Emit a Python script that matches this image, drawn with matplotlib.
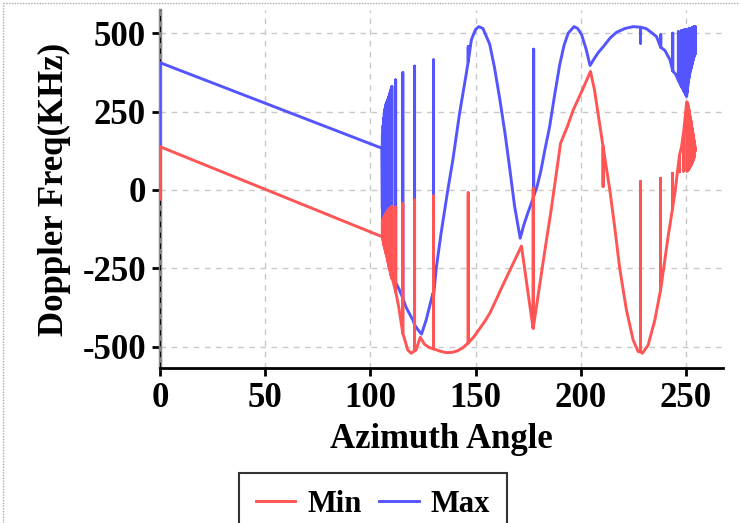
import matplotlib
matplotlib.use("Agg")
import matplotlib.pyplot as plt
from matplotlib.lines import Line2D

# ---- data ----
# Max (blue): smooth envelope, then spikes (x, base, top)
max_curve_x = [0, 0, 105.5, 110.6, 113.5, 117, 120.2, 122.5, 124.3, 126.5, 129.7, 131.3,
               133.6, 136.8, 139.2, 142.4, 145.6, 148, 150, 151.5, 153.5, 156.7, 159,
               161.5, 164, 166.2, 168.5, 171.2, 173, 175, 176.8, 179, 181, 183, 185.2,
               187.5, 190, 192, 194, 196.8, 198.5, 200.4, 202.5, 204.4, 206.5, 208.5,
               210.7, 214, 217, 221, 225, 231, 234, 236, 240, 242.4, 245, 250.3]
max_curve_v = [140, 406, 133, -266, -315, -375, -415, -445, -460, -415, -330, -250,
               -138, 0, 96, 245, 372, 479, 512, 521, 515, 465, 390,
               290, 180, 70, -50, -154, -110, -70, -37, 5, 60, 130, 202,
               300, 400, 460, 500, 521, 515, 495, 450, 397, 420, 440,
               457, 485, 503, 515, 521, 515, 500, 489, 445, 415, 370, 298]

max_dense_l_x = [105.7, 106.0, 106.3, 106.6, 106.9, 107.2, 107.5, 107.8, 108.1, 108.4,
                 108.7, 109.0, 109.3, 109.6, 109.9, 110.2]
max_dense_l_base = [-60, -100, -120, -135, -150, -160, -170, -180, -190, -200,
                    -210, -220, -230, -240, -250, -258]
max_dense_l_top = [175, 205, 228, 245, 258, 268, 275, 280, 285, 290,
                   296, 302, 309, 316, 323, 330]

max_single_x = [112.0, 115.4, 121.0, 130.0, 146.5, 177.6, 228.4, 238.0, 243.7, 246.4,
                247.8, 249.0, 249.8]
max_single_base = [-295, -345, -430, -340, 410, -20, 519, 455, 380, 350, 330, 316, 305]
max_single_top = [351, 374, 395, 415, 457, 449, 468, 495, 500, 505, 508, 510, 512]

max_dense_r_x = [250.5, 250.8, 251.1, 251.4, 251.7, 252.0, 252.3, 252.6, 252.9, 253.2,
                 253.5, 253.8, 254.1, 254.4]
max_dense_r_base = [310, 330, 345, 358, 368, 378, 386, 394, 402, 410, 418, 425, 431, 436]
max_dense_r_top = [512, 512, 513, 513, 514, 514, 515, 516, 517, 518, 519, 520, 520, 521]

# Min (red)
min_curve_x = [0, 0, 105.5, 110.6, 112.2, 113.5, 115.4, 117.8, 119.4, 121.7, 123.7, 125.7,
               128, 130.5, 133, 136, 139, 141.5, 144, 146.5, 149, 152, 154.5, 156.7, 159.8,
               163, 166.2, 169, 171.8, 177.3, 180, 183, 186, 190.4, 193.5, 196.4, 200.5,
               204.6, 206.5, 208.2, 210.6, 213.8, 216.1, 218.5, 221.7, 224.9, 227.3, 229.3,
               232, 235.2, 238.4, 241.5, 244.7, 247.9, 250.3]
min_curve_v = [-30, 138, -149, -287, -330, -375, -457, -511, -521, -511, -470, -492,
               -503, -508, -514, -519, -518, -513, -503, -488, -470, -442, -418, -394, -350,
               -303, -258, -218, -179, -441, -325, -190, -60, 149, 200, 255, 315,
               378, 320, 245, 138, 0, -117, -250, -383, -479, -516, -521,
               -495, -415, -298, -149, -11, 138, 277]

min_dense_l_x = max_dense_l_x
min_dense_l_base = [-150, -160, -170, -180, -188, -196, -204, -212, -220, -230,
                    -240, -248, -256, -265, -274, -282]
min_dense_l_top = [-100, -95, -90, -86, -82, -78, -75, -72, -69, -66,
                   -63, -61, -59, -57, -55, -53]

min_single_x = [112.0, 115.4, 121.0, 130.0, 146.5, 177.4, 210.6, 228.4, 237.9, 243.6,
                246.9, 248.8]
min_single_base = [-325, -457, -513, -507, -488, -441, 138, -516, -320, -60, 110, 180]
min_single_top = [-55, -43, -32, -19, -9, 5, 11, 27, 37, 53, 58, 60]

min_dense_r_x = max_dense_r_x
min_dense_r_base = [280, 275, 265, 255, 243, 232, 220, 208, 196, 183, 170, 158, 145, 132]
min_dense_r_top = [60, 62, 64, 67, 70, 74, 78, 82, 86, 91, 96, 102, 110, 125]


def build(curve_x, curve_v, spikes):
    pts = list(zip(curve_x, curve_v))
    for xs, bs, ts in spikes:
        for x, b, t in zip(xs, bs, ts):
            pts += [(x, b), (x, t), (x, b)]
    pts.sort(key=lambda p: p[0])  # stable: keeps order at equal x
    return [p[0] for p in pts], [p[1] for p in pts]


max_x, max_v = build(max_curve_x, max_curve_v,
                     [(max_dense_l_x, max_dense_l_base, max_dense_l_top),
                      (max_single_x, max_single_base, max_single_top),
                      (max_dense_r_x, max_dense_r_base, max_dense_r_top)])
min_x, min_v = build(min_curve_x, min_curve_v,
                     [(min_dense_l_x, min_dense_l_base, min_dense_l_top),
                      (min_single_x, min_single_base, min_single_top),
                      (min_dense_r_x, min_dense_r_base, min_dense_r_top)])

RED = "#ff5555"
BLUE = "#5555ff"

plt.rcParams["font.family"] = ["Liberation Serif", "DejaVu Serif"]
plt.rcParams["font.weight"] = "bold"
plt.rcParams["axes.unicode_minus"] = False

fig = plt.figure(figsize=(7.4, 5.23), dpi=100)
ax = fig.add_axes([160 / 740, 1 - 368 / 523, (723 - 160) / 740, (368 - 10) / 523])

ax.grid(True, color="#c8c8c8", linestyle=(0, (4, 4)), linewidth=1)
ax.set_axisbelow(True)

l_max, = ax.plot(max_x, max_v, color=BLUE, lw=2.1, zorder=3)
l_min, = ax.plot(min_x, min_v, color=RED, lw=2.1, zorder=4)

ax.set_xlim(0, 267.6)
ax.set_ylim(-568, 574)
ax.set_xticks([0, 50, 100, 150, 200, 250])
ax.set_yticks([-500, -250, 0, 250, 500])

for s in ["top", "right"]:
    ax.spines[s].set_visible(False)
ax.spines["bottom"].set_linewidth(2)
ax.spines["left"].set_color("#888888")
ax.spines["left"].set_linewidth(2.5)
ax.axvline(0, color="black", linestyle=(0, (3, 3)), lw=1.3, zorder=2.6)

ax.tick_params(axis="both", direction="out", length=6, width=2, labelsize=25, pad=4)
for lab in ax.get_xticklabels() + ax.get_yticklabels():
    lab.set_fontweight("bold")

ax.set_xlabel("Azimuth Angle", fontsize=25, fontweight="bold", labelpad=6)
ax.set_ylabel("Doppler Freq(KHz)", fontsize=25, fontweight="bold", labelpad=8)

leg = fig.legend([l_min, l_max], ["Min", "Max"], loc="upper center", ncol=2,
                 bbox_to_anchor=(373 / 740, 1 - 473 / 523), frameon=True, fancybox=False,
                 prop={"size": 22, "weight": "bold"}, handlelength=1.3,
                 columnspacing=0.55, handletextpad=0.4, borderpad=0.55, borderaxespad=0)
leg.get_frame().set_edgecolor("black")
leg.get_frame().set_linewidth(1.5)

# dotted page border (left and top)
fig.add_artist(Line2D([3 / 740, 3 / 740], [0, 1 - 3 / 523], transform=fig.transFigure,
                      color="#aaaaaa", lw=1, linestyle=(0, (1, 1))))
fig.add_artist(Line2D([3 / 740, 1], [1 - 3 / 523, 1 - 3 / 523], transform=fig.transFigure,
                      color="#aaaaaa", lw=1, linestyle=(0, (1, 1))))

fig.savefig("out.png", dpi=100)
